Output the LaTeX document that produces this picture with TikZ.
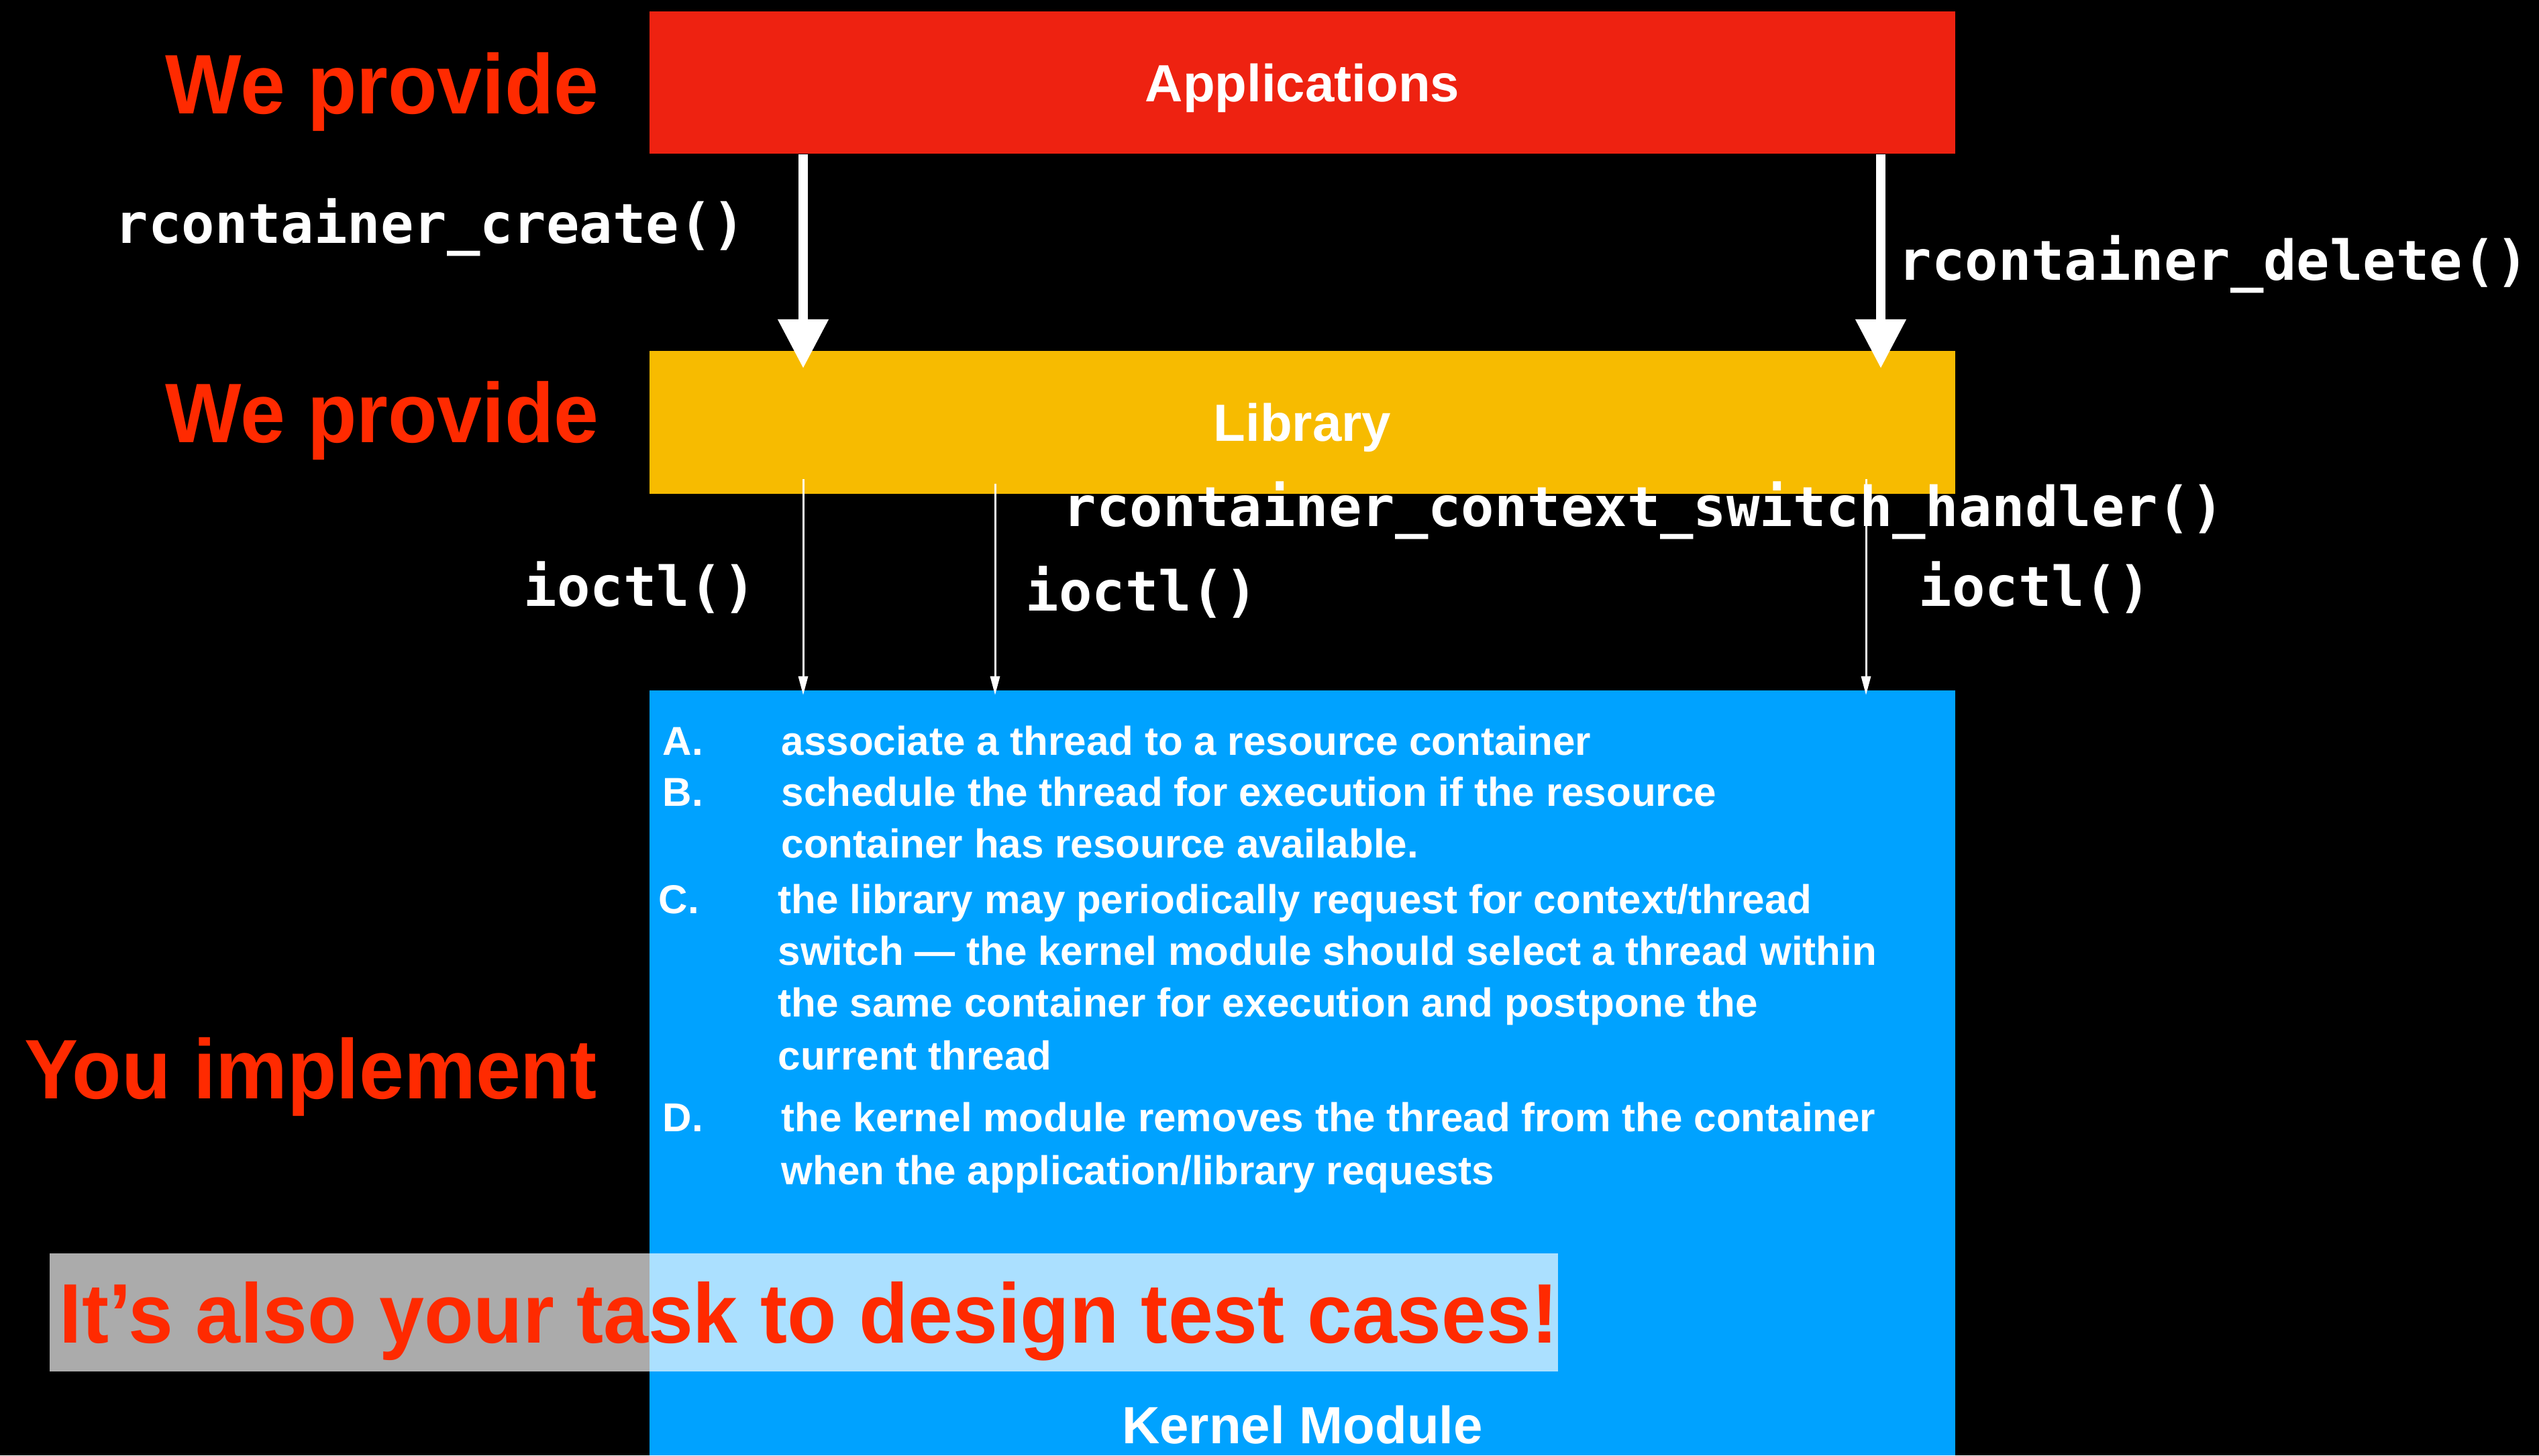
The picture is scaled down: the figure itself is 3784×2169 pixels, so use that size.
\documentclass[tikz,border=0pt]{standalone}
\usepackage{fontspec}
\setmainfont{Liberation Sans}
\newfontfamily\headfont[FakeStretch=0.955]{Liberation Sans Bold}
\newfontfamily\codefont{DejaVu Sans Mono Bold}
\usetikzlibrary{arrows.meta}
\definecolor{appred}{HTML}{EE2211}
\definecolor{wpred}{HTML}{FF2A00}
\definecolor{libyel}{HTML}{F7BB00}
\definecolor{kblue}{HTML}{00A2FF}
\tikzset{
  bigtxt/.style={text=wpred, font=\headfont\fontsize{35.8}{40}\selectfont, inner sep=0pt, anchor=base west},
  boxtitle/.style={text=white, font=\bfseries\fontsize{22.2}{26}\selectfont},
  codetxt/.style={text=white, font=\codefont\fontsize{23.35}{27}\selectfont, inner sep=0pt, anchor=base west},
  bodytxt/.style={text=white, font=\bfseries\fontsize{17.1}{20}\selectfont, inner sep=0pt, anchor=base west},
  layer/.style={minimum width=19.44cm, draw=none, inner sep=0pt, text height=0.56cm, text depth=0pt},
  bigarrow/.style={draw=white, line width=0.14cm, -{Triangle[width=0.72cm,length=0.73cm]}},
  thinarrow/.style={draw=white, line width=0.03cm, -{Triangle[width=0.14cm,length=0.28cm]}}
}
\begin{document}
\begin{tikzpicture}[x=0.01cm,y=-0.01cm]
\fill[black] (0,0) rectangle (3784,2169);
\useasboundingbox (0,0) rectangle (3784,2169);

% layers
\node[layer, fill=appred, minimum height=2.12cm, boxtitle] (app) at (1941,123) {Applications};
\node[layer, fill=libyel, minimum height=2.13cm, boxtitle] (lib) at (1941,629.5) {Library};
\node[layer, fill=kblue, minimum height=11.40cm] (ker) at (1941,1599) {};

% left labels
\node[bigtxt] (wp1) at (246,169) {We provide};
\node[bigtxt] (wp2) at (246,659) {We provide};
\node[bigtxt] (yi) at (36,1637) {You implement};

% code labels
\node[codetxt] (create) at (171,362) {rcontainer\_create()};
\node[codetxt] (delete) at (2829,417) {rcontainer\_delete()};
\node[codetxt] (csh) at (1584,784) {rcontainer\_context\_switch\_handler()};
\node[codetxt] (io1) at (780,903) {ioctl()};
\node[codetxt] (io2) at (1528,910) {ioctl()};
\node[codetxt] (io3) at (2859,903) {ioctl()};

% thick arrows
\coordinate (t1) at (1197,549);
\coordinate (t2) at (2803,549);
\draw[bigarrow] (app.south -| t1) -- (t1);
\draw[bigarrow] (app.south -| t2) -- (t2);

% thin arrows
\coordinate (s1) at (1197,714);
\coordinate (e1) at (1197,1036);
\coordinate (s2) at (1483,721);
\coordinate (e2) at (1483,1036);
\coordinate (s3) at (2781,714);
\coordinate (e3) at (2781,1036);
\draw[thinarrow] (s1) -- (e1);
\draw[thinarrow] (s2) -- (e2);
\draw[thinarrow] (s3) -- (e3);

% kernel module text
\node[bodytxt] (la) at (987,1125) {A.};
\node[bodytxt] (ta) at (1164,1125) {associate a thread to a resource container};
\node[bodytxt] (lb) at (987,1201) {B.};
\node[bodytxt] (tb1) at (1164,1201) {schedule the thread for execution if the resource};
\node[bodytxt] (tb2) at (1164,1278) {container has resource available.};
\node[bodytxt] (lc) at (981,1361) {C.};
\node[bodytxt] (tc1) at (1159,1361) {the library may periodically request for context/thread};
\node[bodytxt] (tc2) at (1159,1438) {switch — the kernel module should select a thread within};
\node[bodytxt] (tc3) at (1159,1515) {the same container for execution and postpone the};
\node[bodytxt] (tc4) at (1159,1594) {current thread};
\node[bodytxt] (ld) at (987,1686) {D.};
\node[bodytxt] (td1) at (1164,1686) {the kernel module removes the thread from the container};
\node[bodytxt] (td2) at (1164,1765) {when the application/library requests};

\node[boxtitle, anchor=base, inner sep=0pt] (km) at (1941,2151) {Kernel Module};

% overlay banner
\node[fill=white, fill opacity=0.67, minimum width=22.47cm, minimum height=1.76cm, inner sep=0pt, anchor=north west] (ovl) at (73,1867) {};
\node[bigtxt] (task) at (88,2001) {It’s also your task to design test cases!};
\end{tikzpicture}
\end{document}
